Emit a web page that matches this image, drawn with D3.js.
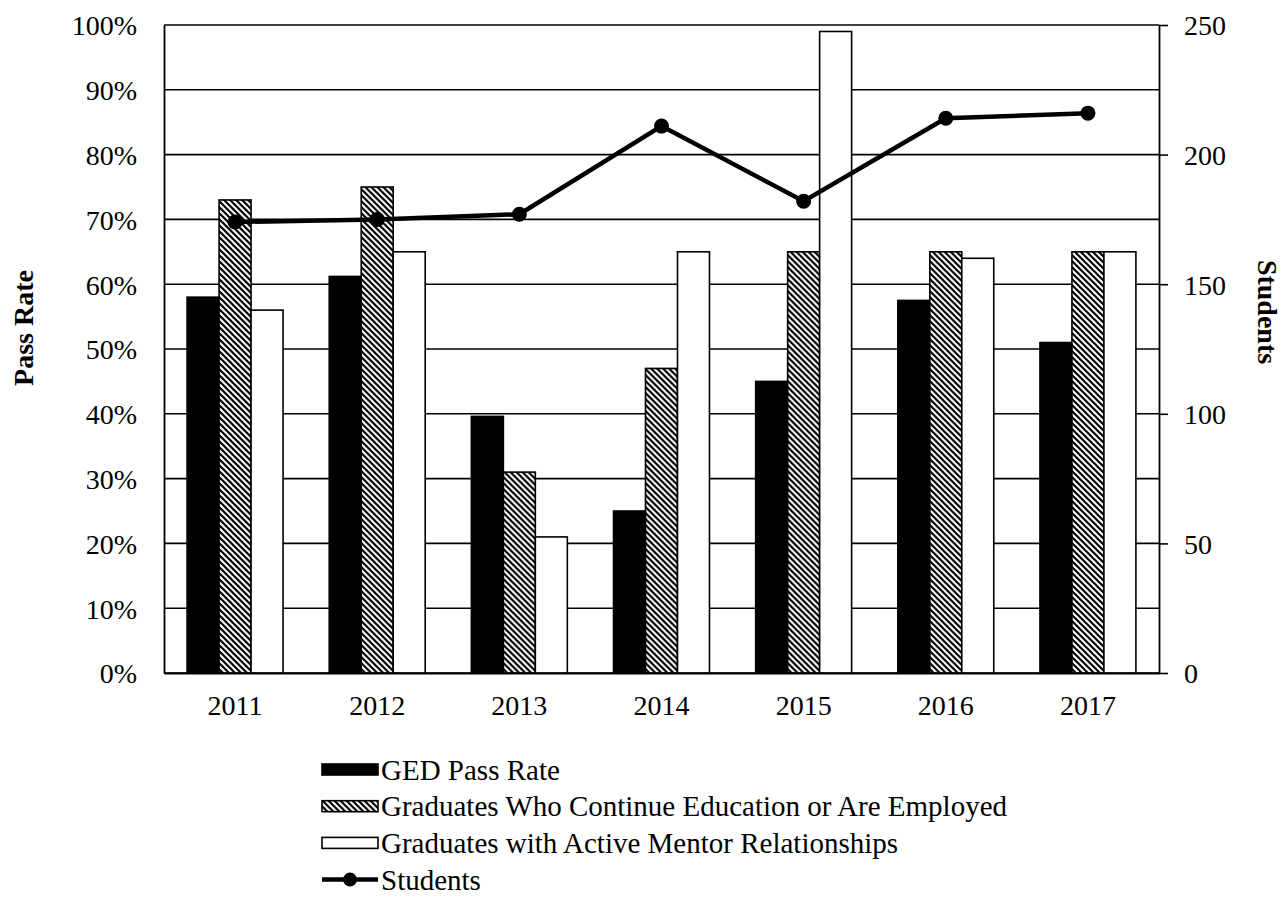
<!DOCTYPE html>
<html>
<head>
<meta charset="utf-8">
<script src="https://cdn.jsdelivr.net/npm/d3@7"></script>
<style>
  body { margin: 0; background: #fff; }
  svg text { font-family: "Liberation Serif", "Times New Roman", serif; fill: #000; }
</style>
</head>
<body>
<div id="vis"></div>
<script>
// chart data
const years = ["2011", "2012", "2013", "2014", "2015", "2016", "2017"];
const gedPassRate = [58, 61.2, 39.6, 25, 45, 57.5, 51];
const continueOrEmployed = [73, 75, 31, 47, 65, 65, 65];
const activeMentor = [56, 65, 21, 65, 99, 64, 65];
const students = [174, 175, 177, 211, 182, 214, 216];
const seriesNames = [
  "GED Pass Rate",
  "Graduates Who Continue Education or Are Employed",
  "Graduates with Active Mentor Relationships",
  "Students"
];
const pctTicks = [0, 10, 20, 30, 40, 50, 60, 70, 80, 90, 100];
const studentTicks = [0, 50, 100, 150, 200, 250];

const width = 1284;
const height = 903;
const margin = { top: 25, right: 125, bottom: 230, left: 164 };
const innerW = width - margin.left - margin.right;
const innerH = height - margin.top - margin.bottom;

const svg = d3.select("#vis")
  .append("svg")
  .attr("width", width)
  .attr("height", height);

// diagonal hatch pattern
const defs = svg.append("defs");
const pat = defs.append("pattern")
  .attr("id", "hatch")
  .attr("patternUnits", "userSpaceOnUse")
  .attr("width", 6)
  .attr("height", 6);
pat.append("rect").attr("width", 6).attr("height", 6).attr("fill", "#fff");
pat.append("path")
  .attr("d", "M-1,-1L7,7M-4,2L2,8M4,-2L8,2")
  .attr("stroke", "#000")
  .attr("stroke-width", 2.2);

const fills = ["#000", "url(#hatch)", "#fff"];

const g = svg.append("g")
  .attr("transform", `translate(${margin.left},${margin.top})`);

const x0 = d3.scaleBand()
  .domain(years)
  .range([0, innerW])
  .paddingInner(0.325)
  .paddingOuter(0.1625);

const x1 = d3.scaleBand()
  .domain([0, 1, 2])
  .range([0, x0.bandwidth()]);

const yL = d3.scaleLinear().domain([0, 100]).range([innerH, 0]);
const yR = d3.scaleLinear().domain([0, 250]).range([innerH, 0]);

// grid lines
g.append("g")
  .selectAll("line")
  .data(pctTicks)
  .join("line")
  .attr("x1", 0)
  .attr("x2", innerW)
  .attr("y1", d => yL(d))
  .attr("y2", d => yL(d))
  .attr("stroke", "#000")
  .attr("stroke-width", 1.6);

// bars
const barSeries = [gedPassRate, continueOrEmployed, activeMentor];
const groups = g.append("g")
  .selectAll("g")
  .data(years)
  .join("g")
  .attr("transform", d => `translate(${x0(d)},0)`);

groups.selectAll("rect")
  .data((d, i) => barSeries.map((s, k) => ({ k: k, v: s[i] })))
  .join("rect")
  .attr("x", d => x1(d.k))
  .attr("width", x1.bandwidth())
  .attr("y", d => yL(d.v))
  .attr("height", d => innerH - yL(d.v))
  .attr("fill", d => fills[d.k])
  .attr("stroke", "#000")
  .attr("stroke-width", 1.6);

// left axis
const leftAxis = g.append("g")
  .call(d3.axisLeft(yL).tickValues(pctTicks).tickSize(0).tickPadding(27)
    .tickFormat(d => d + "%"));
leftAxis.select(".domain").attr("stroke", "#000").attr("stroke-width", 1.8);
leftAxis.selectAll("text").style("font-size", "28px").attr("dy", "0.35em");

// right axis
const rightAxis = g.append("g")
  .attr("transform", `translate(${innerW},0)`)
  .call(d3.axisRight(yR).tickValues(studentTicks).tickSizeInner(9).tickSizeOuter(0).tickPadding(16));
rightAxis.select(".domain").attr("stroke", "#000").attr("stroke-width", 1.8);
rightAxis.selectAll("line").attr("stroke", "#000").attr("stroke-width", 1.6);
rightAxis.selectAll("text").style("font-size", "28px").attr("dy", "0.35em");

// bottom axis
const bottomAxis = g.append("g")
  .attr("transform", `translate(0,${innerH})`)
  .call(d3.axisBottom(x0).tickSize(0).tickPadding(22));
bottomAxis.select(".domain").attr("stroke", "#000").attr("stroke-width", 1.8);
bottomAxis.selectAll("text").style("font-size", "28px");

// students line
const line = d3.line()
  .x((d, i) => x0(years[i]) + x0.bandwidth() / 2)
  .y(d => yR(d));

g.append("path")
  .datum(students)
  .attr("d", line)
  .attr("fill", "none")
  .attr("stroke", "#000")
  .attr("stroke-width", 4.5);

g.append("g")
  .selectAll("circle")
  .data(students)
  .join("circle")
  .attr("cx", (d, i) => x0(years[i]) + x0.bandwidth() / 2)
  .attr("cy", d => yR(d))
  .attr("r", 7.5)
  .attr("fill", "#000");

// axis titles
svg.append("text")
  .attr("transform", "translate(33,328) rotate(-90)")
  .attr("text-anchor", "middle")
  .style("font-size", "28px")
  .style("font-weight", "bold")
  .text("Pass Rate");

svg.append("text")
  .attr("transform", "translate(1258,312) rotate(90)")
  .attr("text-anchor", "middle")
  .style("font-size", "28px")
  .style("font-weight", "bold")
  .text("Students");

// legend
const legend = svg.append("g").attr("transform", "translate(322,769.5)");
const rowH = 36.7;
seriesNames.forEach((name, i) => {
  const row = legend.append("g").attr("transform", `translate(0,${i * rowH})`);
  if (i < 3) {
    row.append("rect")
      .attr("x", 0)
      .attr("y", -5.5)
      .attr("width", 56)
      .attr("height", 11)
      .attr("fill", fills[i])
      .attr("stroke", "#000")
      .attr("stroke-width", 1.6);
  } else {
    row.append("line")
      .attr("x1", 0).attr("x2", 56)
      .attr("y1", 0).attr("y2", 0)
      .attr("stroke", "#000")
      .attr("stroke-width", 4.5);
    row.append("circle")
      .attr("cx", 28).attr("cy", 0).attr("r", 7)
      .attr("fill", "#000");
  }
  row.append("text")
    .attr("x", 59)
    .attr("y", 0)
    .attr("dy", "0.35em")
    .style("font-size", "29px")
    .text(name);
});
</script>
</body>
</html>
